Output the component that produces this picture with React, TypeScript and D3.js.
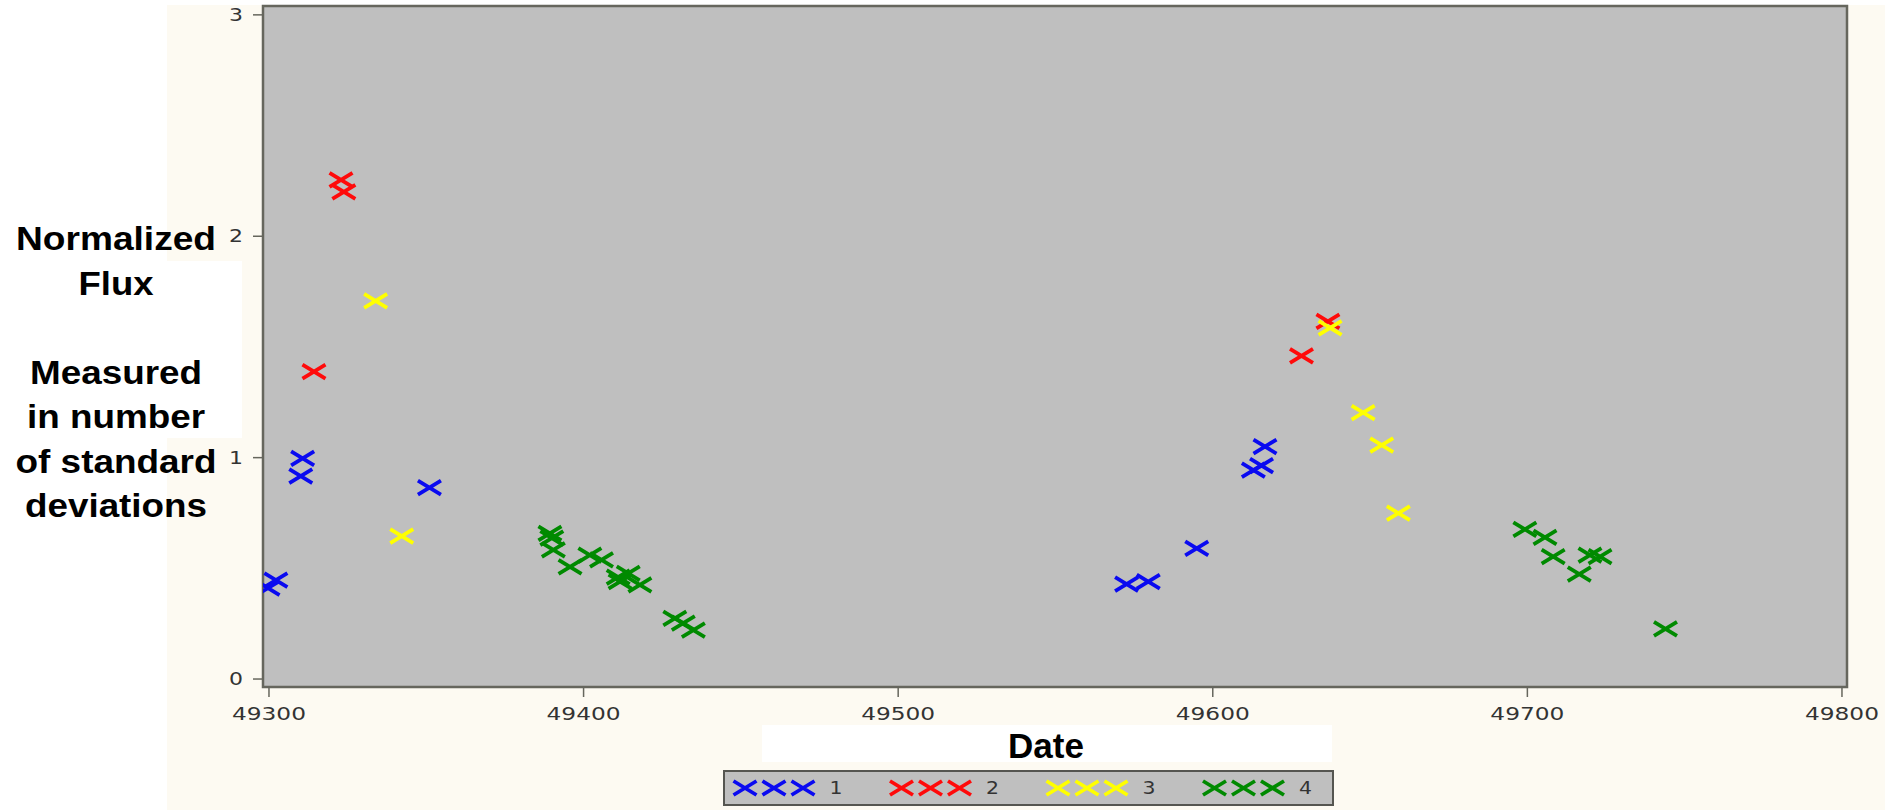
import React, { useEffect } from "react";
import * as d3 from "d3";

const seriesNames = ["1", "2", "3", "4"];
const seriesColors = ["#0a0af0", "#ff0a0a", "#ffff00", "#008a00"];

const dates1 = [49299.7, 49302.2, 49310.1, 49310.7, 49351, 49572.6, 49579.5, 49594.9, 49612.9, 49615.5, 49616.6];
const values1 = [0.411, 0.447, 0.917, 0.997, 0.864, 0.429, 0.44, 0.59, 0.944, 0.964, 1.05];

const dates2 = [49314.3, 49322.9, 49323.8, 49628.2, 49636.6];
const values2 = [1.389, 2.255, 2.2, 1.46, 1.615];

const dates3 = [49333.9, 49342.2, 49637.3, 49647.8, 49653.7, 49659];
const values3 = [1.708, 0.646, 1.586, 1.203, 1.057, 0.749];

const dates4 = [49389.3, 49389.9, 49390.4, 49395.7, 49402, 49405.7, 49411, 49414.2, 49411.6, 49417.9, 49429, 49431.7, 49434.9,
  49699.2, 49705.6, 49708.2, 49716.5, 49719.9, 49723.1, 49743.9];
const values4 = [0.658, 0.637, 0.583, 0.507, 0.56, 0.538, 0.46, 0.477, 0.44, 0.425, 0.274, 0.252, 0.221,
  0.676, 0.64, 0.553, 0.474, 0.56, 0.553, 0.226];

const xTicks = [49300, 49400, 49500, 49600, 49700, 49800];
const yTicks = [0, 1, 2, 3];

const yTitleLines = ["Normalized", "Flux", "", "Measured", "in number", "of standard", "deviations"];
const yTitleWidths = [200, 75, 0, 172, 178, 201, 182];
const xTitle = "Date";

const W = 1885, H = 810;
const plot = { left: 263, right: 1847, top: 6, bottom: 687 };

const x = d3.scaleLinear().domain([49298.1, 49801.6]).range([plot.left, plot.right]);
const y = d3.scaleLinear().domain([-0.036, 3.04]).range([plot.bottom, plot.top]);

const markerPath = "M-11.5,-7L11.5,7M-11.5,7L11.5,-7";

export default function App() {
  useEffect(() => {
    document.body.style.margin = "0";
  }, []);

  const series = [
    { dates: dates1, values: values1 },
    { dates: dates2, values: values2 },
    { dates: dates3, values: values3 },
    { dates: dates4, values: values4 },
  ];

  const tickFont = { fontFamily: "DejaVu Sans", fontSize: 17, fill: "#333333" };

  return (
    <svg width={W} height={H} style={{ display: "block", position: "absolute", left: 0, top: 0 }}>
      <rect x={0} y={0} width={W} height={H} fill="#ffffff" />
      <rect x={167} y={5} width={W - 167} height={H - 5} fill="#fdfaf2" />
      <rect x={0} y={261} width={242} height={177} fill="#ffffff" />
      <rect x={762} y={725} width={570} height={37} fill="#ffffff" />

      <defs>
        <clipPath id="plotclip">
          <rect x={plot.left} y={plot.top} width={plot.right - plot.left} height={plot.bottom - plot.top} />
        </clipPath>
      </defs>

      <rect x={plot.left} y={plot.top} width={plot.right - plot.left} height={plot.bottom - plot.top}
        fill="#bfbfbf" stroke="#66665d" strokeWidth={2.5} />

      {/* y ticks */}
      {yTicks.map((t) => (
        <g key={"y" + t}>
          <line x1={plot.left - 10} x2={plot.left} y1={y(t)} y2={y(t)} stroke="#66665d" strokeWidth={1.5} />
          <text x={243} y={y(t) + 6} textAnchor="end" {...tickFont} textLength={14} lengthAdjust="spacingAndGlyphs">{t}</text>
        </g>
      ))}

      {/* x ticks */}
      {xTicks.map((t) => (
        <g key={"x" + t}>
          <line x1={x(t)} x2={x(t)} y1={plot.bottom} y2={plot.bottom + 10} stroke="#66665d" strokeWidth={1.5} />
          <text x={x(t)} y={720} textAnchor="middle" {...tickFont} textLength={74} lengthAdjust="spacingAndGlyphs">{t}</text>
        </g>
      ))}

      {/* points */}
      <g clipPath="url(#plotclip)">
        {series.map((s, i) => (
          <g key={"s" + i}>
            {s.dates.map((d, j) => (
              <path key={j} d={markerPath} transform={`translate(${x(d)},${y(s.values[j])})`}
                stroke={seriesColors[i]} strokeWidth={3.8} fill="none" />
            ))}
          </g>
        ))}
      </g>

      {/* y title */}
      {yTitleLines.map((l, i) => l ? (
        <text key={"t" + i} x={116} y={250 + i * 44.5} textAnchor="middle" fontFamily="Liberation Sans, Arial"
          fontWeight="bold" fontSize={33} fill="#000" textLength={yTitleWidths[i]} lengthAdjust="spacingAndGlyphs">{l}</text>
      ) : null)}

      {/* x title */}
      <text x={1046} y={758} textAnchor="middle" fontFamily="Liberation Sans, Arial" fontWeight="bold" fontSize={35} fill="#000">{xTitle}</text>

      {/* legend */}
      <rect x={724} y={771} width={609} height={34} fill="#bfbfbf" stroke="#555550" strokeWidth={2} />
      {seriesNames.map((n, i) => {
        const x0 = 745 + i * 156.5;
        return (
          <g key={"l" + i}>
            {[0, 1, 2].map((k) => (
              <path key={k} d={markerPath} transform={`translate(${x0 + k * 29},788)`}
                stroke={seriesColors[i]} strokeWidth={3.8} fill="none" />
            ))}
            <text x={x0 + 91} y={794} textAnchor="middle" {...tickFont} textLength={13} lengthAdjust="spacingAndGlyphs">{n}</text>
          </g>
        );
      })}
    </svg>
  );
}
